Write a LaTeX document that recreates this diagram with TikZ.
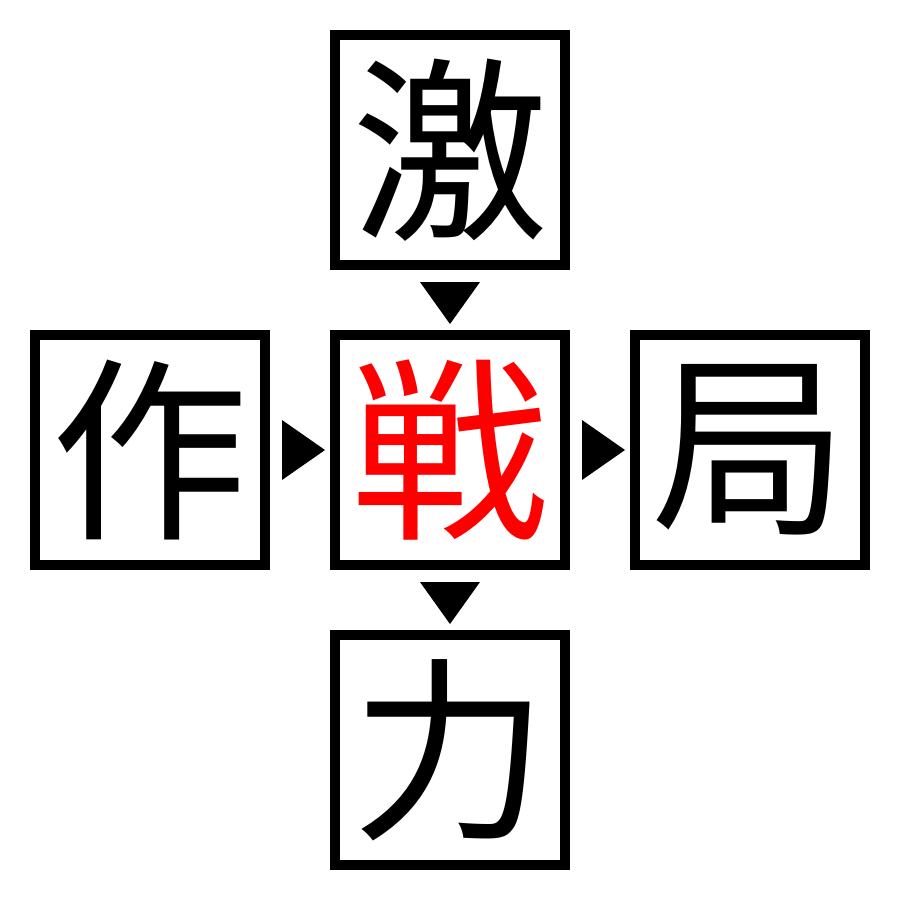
\documentclass[tikz,border=0pt]{standalone}
\usepackage{fontspec}
\newfontfamily\cjk{Noto Sans CJK JP}
\usetikzlibrary{calc}
\definecolor{kanjired}{RGB}{255,0,0}
\begin{document}
\begin{tikzpicture}[x=1cm,y=1cm,
  box/.style={draw=black, line width=0.1cm, minimum size=2.3cm, inner sep=0pt, font=\cjk\fontsize{56}{56}\selectfont},
  tri/.style={fill=black}]
\useasboundingbox (0,0) rectangle (9,-9);
\node[box] (top) at (4.5,-1.5) {激};
\node[box] (left) at (1.5,-4.5) {作};
\node[box, text=kanjired] (center) at (4.5,-4.5) {戦};
\node[box] (right) at (7.5,-4.5) {局};
\node[box] (bottom) at (4.5,-7.5) {力};
% down triangle top -> center
\fill[tri] ($(top.south)+(-0.3,-0.12)$) -- ($(top.south)+(0.3,-0.12)$) -- ($(center.north)+(0,0.06)$) -- cycle;
% down triangle center -> bottom
\fill[tri] ($(center.south)+(-0.3,-0.12)$) -- ($(center.south)+(0.3,-0.12)$) -- ($(bottom.north)+(0,0.06)$) -- cycle;
% right triangle left -> center
\fill[tri] ($(left.east)+(0.12,0.3)$) -- ($(left.east)+(0.12,-0.3)$) -- ($(center.west)+(-0.05,0)$) -- cycle;
% right triangle center -> right
\fill[tri] ($(center.east)+(0.12,0.3)$) -- ($(center.east)+(0.12,-0.3)$) -- ($(right.west)+(-0.05,0)$) -- cycle;
\end{tikzpicture}
\end{document}
